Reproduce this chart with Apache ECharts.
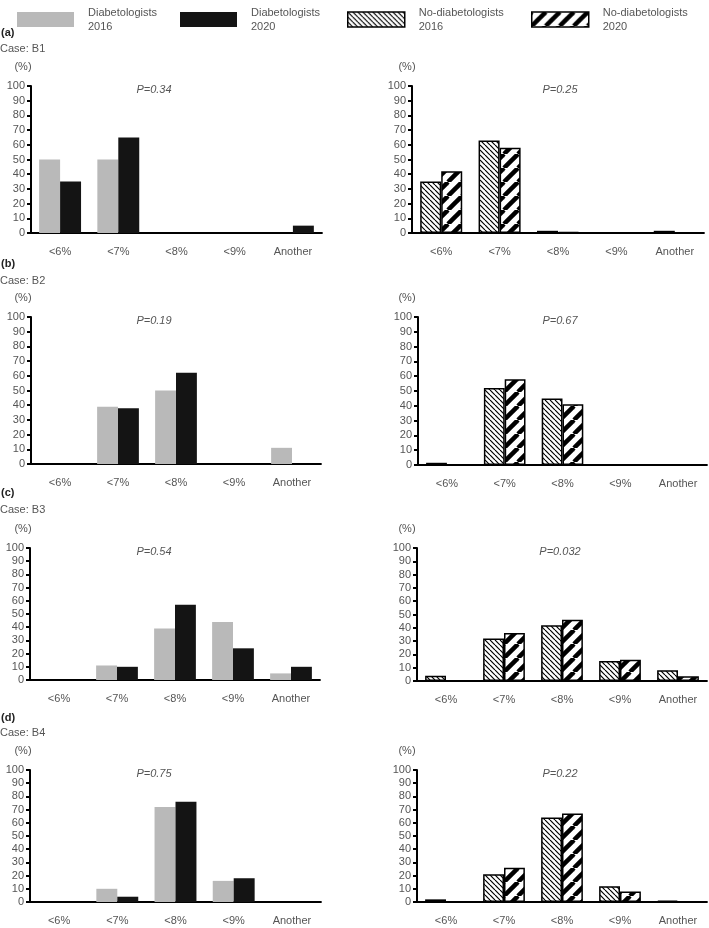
<!DOCTYPE html>
<html><head><meta charset="utf-8">
<script src="https://cdn.jsdelivr.net/npm/echarts@6/dist/echarts.min.js"></script>
<style>html,body{margin:0;padding:0;background:#fff}#c{width:709px;height:928px}</style>
</head><body><div id="c"></div>
<script>
// ---------- data ----------
const categories = ['<6%', '<7%', '<8%', '<9%', 'Another'];
const yMin = 0, yMax = 100, yStep = 10;
const panelTags = ['(a)', '(b)', '(c)', '(d)'];
const caseLabels = ['Case: B1', 'Case: B2', 'Case: B3', 'Case: B4'];
const pLeft = ['P=0.34', 'P=0.19', 'P=0.54', 'P=0.75'];
const pRight = ['P=0.25', 'P=0.67', 'P=0.032', 'P=0.22'];
const seriesNames = ['Diabetologists\n2016', 'Diabetologists\n2020', 'No-diabetologists\n2016', 'No-diabetologists\n2020'];

const b1Diab2016 = [50, 50, 0, 0, 0];
const b1Diab2020 = [35, 65, 0, 0, 5];
const b1NoDiab2016 = [35, 63, 1.5, 0, 1.5];
const b1NoDiab2020 = [42, 58, 0.7, 0, 0];

const b2Diab2016 = [0, 39, 50, 0, 11];
const b2Diab2020 = [0, 38, 62, 0, 0];
const b2NoDiab2016 = [1.5, 52, 45, 0.5, 0.5];
const b2NoDiab2020 = [0.5, 58, 41, 0.5, 0];

const b3Diab2016 = [0, 11, 39, 44, 5];
const b3Diab2020 = [0, 10, 57, 24, 10];
const b3NoDiab2016 = [4, 32, 42, 15, 8];
const b3NoDiab2020 = [0, 36, 46, 16, 3.5];

const b4Diab2016 = [0, 10, 72, 16, 0];
const b4Diab2020 = [0, 4, 76, 18, 0];
const b4NoDiab2016 = [2, 21, 64, 12, 1];
const b4NoDiab2020 = [0.5, 26, 67, 8, 0];

// ---------- layout (pixels) ----------
const leftGrids = [
  {left: 31, top: 86, width: 291, height: 147},
  {left: 31, top: 317, width: 290, height: 147},
  {left: 30, top: 548, width: 290, height: 132},
  {left: 30, top: 770, width: 291, height: 132}
];
const rightGrids = [
  {left: 412, top: 86, width: 292, height: 147},
  {left: 418, top: 317, width: 289, height: 148},
  {left: 417, top: 548, width: 290, height: 133},
  {left: 417, top: 770, width: 290, height: 132}
];

// ---------- patterns ----------
function backslashTile() {
  const s = 5, c = document.createElement('canvas');
  c.width = c.height = s;
  const g = c.getContext('2d');
  g.fillStyle = '#fff'; g.fillRect(0, 0, s, s);
  g.strokeStyle = '#000'; g.lineWidth = 1.2;
  [[0, 0, s, s], [-s, 0, 0, s], [s, 0, 2 * s, s]].forEach(l => {
    g.beginPath(); g.moveTo(l[0], l[1]); g.lineTo(l[2], l[3]); g.stroke();
  });
  return c;
}
function slashTile() {
  const s = 14, c = document.createElement('canvas');
  c.width = c.height = s;
  const g = c.getContext('2d');
  g.fillStyle = '#fff'; g.fillRect(0, 0, s, s);
  g.strokeStyle = '#000'; g.lineWidth = 4.5;
  [[0, s, s, 0], [-s, s, 0, 0], [s, s, 2 * s, 0]].forEach(l => {
    g.beginPath(); g.moveTo(l[0], l[1]); g.lineTo(l[2], l[3]); g.stroke();
  });
  return c;
}
const pat2016 = {image: backslashTile(), repeat: 'repeat'};
const pat2020 = {image: slashTile(), repeat: 'repeat'};

const styles = [
  {color: '#b9b9b9'},
  {color: '#141414'},
  {color: pat2016, borderColor: '#000', borderWidth: 1.5},
  {color: pat2020, borderColor: '#000', borderWidth: 1.5}
];

const FONT = "'Liberation Sans', Arial, sans-serif";
const TXT = '#555';

const panelData = [
  [b1Diab2016, b1Diab2020, b1NoDiab2016, b1NoDiab2020],
  [b2Diab2016, b2Diab2020, b2NoDiab2016, b2NoDiab2020],
  [b3Diab2016, b3Diab2020, b3NoDiab2016, b3NoDiab2020],
  [b4Diab2016, b4Diab2020, b4NoDiab2016, b4NoDiab2020]
];

const grid = [], xAxis = [], yAxis = [], series = [], graphic = [];

function addPanel(g, pctX, vals, names, st) {
  const idx = grid.length;
  grid.push(Object.assign({containLabel: false}, g));
  xAxis.push({
    type: 'category', gridIndex: idx, data: categories,
    axisLine: {lineStyle: {color: '#000', width: 1.8}},
    axisTick: {show: false},
    axisLabel: {color: TXT, fontSize: 11, fontFamily: FONT, margin: 13}
  });
  yAxis.push({
    type: 'value', gridIndex: idx, min: yMin, max: yMax, interval: yStep,
    name: '(%)', nameLocation: 'end', nameGap: 14,
    nameTextStyle: {color: TXT, fontSize: 11, fontFamily: FONT, padding: [0, 2 * (g.left - pctX), 0, 0]},
    axisLine: {show: true, lineStyle: {color: '#000', width: 2}},
    axisTick: {show: true, inside: false, length: 4, lineStyle: {color: '#000', width: 2}},
    axisLabel: {color: TXT, fontSize: 11, fontFamily: FONT, margin: 6},
    splitLine: {show: false}
  });
  for (let k = 0; k < 2; k++) {
    series.push({
      type: 'bar', name: names[k], xAxisIndex: idx, yAxisIndex: idx,
      data: vals[k], barGap: '0%', barCategoryGap: '28%',
      itemStyle: st[k], silent: true, animation: false
    });
  }
}

for (let p = 0; p < 4; p++) {
  const d = panelData[p];
  addPanel(leftGrids[p], 23, [d[0], d[1]], [seriesNames[0], seriesNames[1]], [styles[0], styles[1]]);
  addPanel(rightGrids[p], 407, [d[2], d[3]], [seriesNames[2], seriesNames[3]], [styles[2], styles[3]]);
}

// panel tags, case labels, P values
const tagY = [33, 264, 493, 718];
const caseY = [49, 281, 510, 733];
for (let p = 0; p < 4; p++) {
  graphic.push({type: 'text', x: 1, y: tagY[p],
    style: {text: panelTags[p], font: "bold 11px " + FONT, fill: '#222', textVerticalAlign: 'middle'}});
  graphic.push({type: 'text', x: 0, y: caseY[p],
    style: {text: caseLabels[p], font: "11px " + FONT, fill: TXT, textVerticalAlign: 'middle'}});
  graphic.push({type: 'text', x: 154, y: leftGrids[p].top + 4,
    style: {text: pLeft[p], font: "italic 11px " + FONT, fill: TXT, textAlign: 'center', textVerticalAlign: 'middle'}});
  graphic.push({type: 'text', x: 560, y: rightGrids[p].top + 4,
    style: {text: pRight[p], font: "italic 11px " + FONT, fill: TXT, textAlign: 'center', textVerticalAlign: 'middle'}});
}

// legends
const legendLeft = [17, 180, 347, 531];
const legend = seriesNames.map((n, i) => ({
  left: legendLeft[i], top: 4, orient: 'horizontal', padding: 0,
  data: [{name: n, icon: 'rect'}], itemWidth: 57, itemHeight: 15, selectedMode: false,
  textStyle: {color: TXT, fontSize: 11, fontFamily: FONT, lineHeight: 14, padding: [3, 0, 0, 9]},
  itemStyle: i >= 2 ? {borderColor: '#000', borderWidth: 1.5} : {borderWidth: 0}
}));

const chart = echarts.init(document.getElementById('c'), null, {renderer: 'canvas'});
chart.setOption({
  backgroundColor: '#fff',
  animation: false,
  legend, grid, xAxis, yAxis, series, graphic
});
</script>
</body></html>
